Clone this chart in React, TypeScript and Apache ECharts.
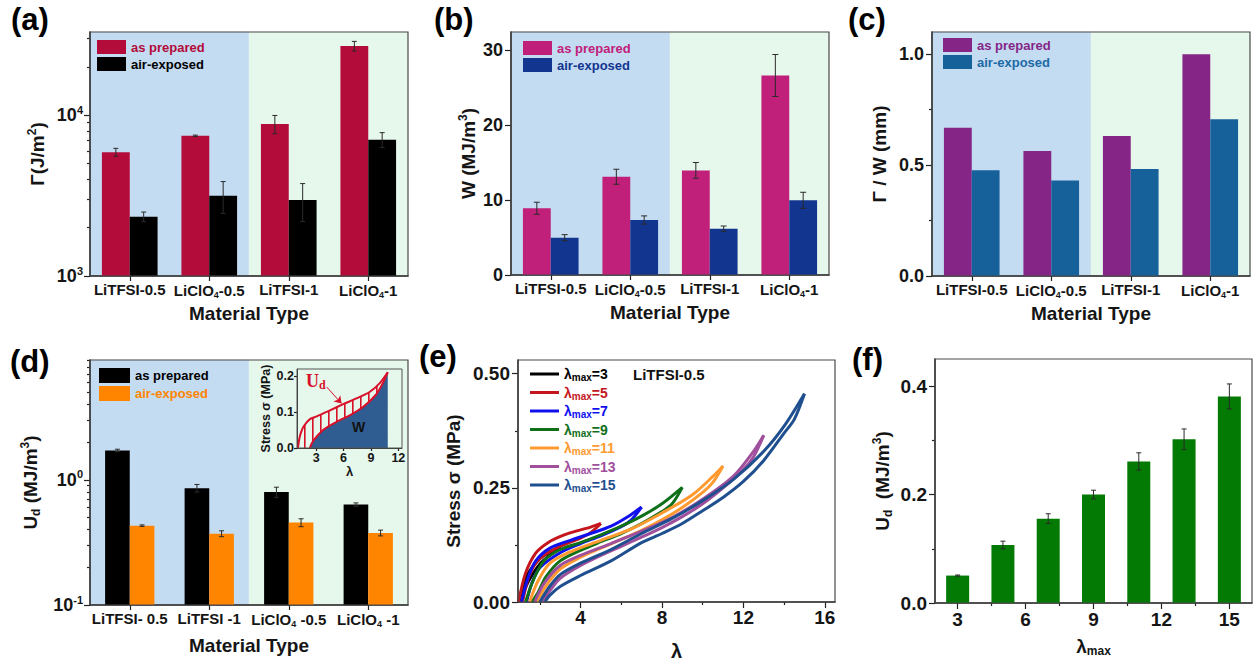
import React, { useEffect, useRef } from 'react';
import * as echarts from 'echarts';

// ---------------- data ----------------
const materialsABC = ['LiTFSI-0.5', 'LiClO4-0.5', 'LiTFSI-1', 'LiClO4-1'];
const materialsD = ['LiTFSI- 0.5', 'LiTFSI -1', 'LiClO4 -0.5', 'LiClO4 -1'];

// (a) fracture energy Γ (J/m²)
const toughnessPrepared = [5900, 7450, 8830, 27000];
const toughnessPreparedErr = [330, 80, 1150, 1850];
const toughnessExposed = [2340, 3160, 2970, 7050];
const toughnessExposedErr = [160, 710, 790, 750];

// (b) work of extension W (MJ/m³)
const workPrepared = [8.9, 13.1, 13.95, 26.6];
const workPreparedErr = [0.8, 1.0, 1.05, 2.8];
const workExposed = [4.98, 7.33, 6.18, 9.96];
const workExposedErr = [0.4, 0.55, 0.35, 1.07];

// (c) Γ / W (mm)
const ratioPrepared = [0.668, 0.563, 0.631, 1.0];
const ratioExposed = [0.477, 0.431, 0.482, 0.707];

// (d) dissipated energy Ud (MJ/m³)
const udPrepared = [1.72, 0.86, 0.8, 0.635];
const udPreparedErr = [0.04, 0.06, 0.075, 0.02];
const udExposed = [0.431, 0.372, 0.456, 0.377];
const udExposedErr = [0.006, 0.02, 0.033, 0.02];

// (d) inset: one loading / unloading cycle
const insetLoading = [[1.0, 0], [1.15, 0.025], [1.33, 0.043], [1.62, 0.06], [2.35, 0.081], [3.07, 0.088], [4.51, 0.105], [5.96, 0.122], [7.4, 0.138], [8.85, 0.156], [9.94, 0.18], [10.84, 0.211]];
const insetUnloading = [[10.84, 0.211], [10.3, 0.181], [9.57, 0.149], [8.13, 0.114], [6.68, 0.091], [5.24, 0.073], [3.79, 0.051], [2.71, 0.021], [2.3, 0]];
const insetArrow = [[4.15, 0.17], [5.78, 0.124]];

// (e) cyclic loops, LiTFSI-0.5
const lambdaMaxList = [3, 5, 7, 9, 11, 13, 15];
const loading3 = [[0.95, 0], [1.2, 0.038], [1.5, 0.068], [2, 0.095], [2.5, 0.11], [3, 0.122]];
const unloading3 = [[3, 0.122], [2.5, 0.103], [2, 0.083], [1.5, 0.05], [1.2, 0.022], [1.0, 0]];
const loading5 = [[0.96, 0], [1.3, 0.063], [1.8, 0.107], [2.4, 0.13], [3.2, 0.147], [4, 0.158], [4.5, 0.164], [5, 0.172]];
const unloading5 = [[5, 0.172], [4.5, 0.152], [4, 0.14], [3, 0.122], [2, 0.095], [1.5, 0.06], [1.15, 0]];
const loading7 = [[1.1, 0], [1.4, 0.05], [1.8, 0.09], [2.5, 0.118], [3.5, 0.135], [4.5, 0.15], [5.5, 0.166], [6.3, 0.186], [7, 0.208]];
const unloading7 = [[7, 0.208], [6.5, 0.18], [6, 0.165], [5, 0.145], [4, 0.128], [3, 0.108], [2, 0.075], [1.6, 0.04], [1.35, 0]];
const loading9 = [[1.3, 0], [1.7, 0.05], [2.2, 0.09], [3, 0.115], [4, 0.13], [5, 0.147], [6, 0.166], [7, 0.188], [8, 0.215], [9, 0.251]];
const unloading9 = [[9, 0.251], [8.5, 0.215], [8, 0.198], [7, 0.172], [6, 0.15], [5, 0.132], [4, 0.113], [3, 0.09], [2.3, 0.055], [1.9, 0.02], [1.6, 0]];
const loading11 = [[1.5, 0], [1.9, 0.045], [2.5, 0.085], [3.5, 0.11], [5, 0.135], [6.5, 0.16], [8, 0.195], [9.5, 0.235], [10.5, 0.275], [11, 0.298]];
const unloading11 = [[11, 0.298], [10.5, 0.262], [10, 0.24], [9, 0.207], [8, 0.18], [7, 0.157], [6, 0.137], [5, 0.118], [4, 0.098], [3, 0.072], [2.3, 0.035], [1.85, 0]];
const loading13 = [[1.75, 0], [2.2, 0.04], [3, 0.08], [4, 0.102], [5.5, 0.128], [7, 0.155], [8.5, 0.185], [10, 0.225], [11.5, 0.275], [12.5, 0.33], [13, 0.365]];
const unloading13 = [[13, 0.365], [12.5, 0.318], [12, 0.29], [11, 0.25], [10, 0.215], [9, 0.187], [8, 0.163], [7, 0.142], [6, 0.122], [5, 0.102], [4, 0.08], [3, 0.052], [2.5, 0.025], [2.1, 0]];
const loading15 = [[2.0, 0], [2.5, 0.035], [3, 0.06], [4, 0.085], [5.5, 0.115], [7, 0.15], [8.5, 0.183], [10, 0.222], [11.5, 0.268], [13, 0.33], [14, 0.385], [15, 0.456]];
const unloading15 = [[15, 0.456], [14.5, 0.4], [14, 0.37], [13, 0.31], [12, 0.264], [11, 0.229], [10, 0.2], [9, 0.172], [8, 0.15], [7, 0.13], [5.5, 0.09], [4, 0.058], [3, 0.034], [2.5, 0.015], [2.25, 0]];

// (f) Ud vs λmax
const udLambdaMax = [3, 5, 7, 9, 11, 13, 15];
const udByLambda = [0.0506, 0.107, 0.1556, 0.2, 0.261, 0.302, 0.381];
const udByLambdaErr = [0.001, 0.007, 0.009, 0.008, 0.016, 0.019, 0.023];

// tick values
const logMajorA = [1000, 10000];
const logMinorA = [2000, 3000, 4000, 5000, 6000, 7000, 8000, 9000, 20000, 30000];
const logMajorD = [0.1, 1];
const logMinorD = [0.2, 0.3, 0.4, 0.5, 0.6, 0.7, 0.8, 0.9, 2, 3, 4, 5, 6, 7, 8, 9];

// ---------------- styles ----------------
const FONT = "Arial, 'Liberation Sans', Helvetica, sans-serif";
const SERIF = "'Times New Roman', 'Liberation Serif', serif";
const INK = '#151515';
const BG_BLUE = '#c4dcf2';
const BG_GREEN = '#e6f7ec';
const FRAME = '#4a4a4a';
const bgSpans = [
  { from: 0, to: 1, color: BG_BLUE },
  { from: 2, to: 3, color: BG_GREEN },
];

const loopColors = ['#000000', '#c4161c', '#1010ee', '#10701a', '#ff9a30', '#a04f9c', '#1f4f8f'];

const richFor = (size: number) => ({
  sub: { fontSize: Math.round(size * 0.62), fontWeight: 'bold', fontFamily: FONT, padding: [Math.round(size * 0.5), 0, 0, 0] },
  sup: { fontSize: Math.round(size * 0.62), fontWeight: 'bold', fontFamily: FONT, padding: [0, 0, Math.round(size * 0.6), 0] },
});
const txt = (size: number, extra: any = {}) => ({ color: INK, fontFamily: FONT, fontWeight: 'bold', fontSize: size, rich: richFor(size), ...extra });
const chem = (s: string) => s.replace('ClO4', 'ClO{sub|4}');

const axLine = { show: true, onZero: false, lineStyle: { color: '#222', width: 1.5 } };
const noLine = { show: false, onZero: false };
const tick = (vals: number[] | undefined, len: number) => ({ show: true, length: len, inside: false, customValues: vals, lineStyle: { color: '#222', width: 1.2 } });
const noSplit = { show: false };

function errorSeries(xAxisIndex: number, yAxisIndex: number, xs: number[], vals: number[], errs: number[], offsetFrac: number, cap = 3) {
  return {
    type: 'custom',
    xAxisIndex,
    yAxisIndex,
    z: 5,
    silent: true,
    data: vals.map((v, i) => [xs[i], v - errs[i], v + errs[i]]),
    encode: { x: 0, y: [1, 2] },
    renderItem: (params: any, api: any) => {
      const x0 = api.value(0);
      const lo = api.value(1);
      const hi = api.value(2);
      const pLo = api.coord([x0, lo]);
      const pHi = api.coord([x0, hi]);
      const band = api.size([0, 0], [x0, hi])[0] || 0;
      const x = pLo[0] + offsetFrac * band;
      const st = { stroke: '#2a2a2a', lineWidth: 1 };
      return {
        type: 'group',
        children: [
          { type: 'line', shape: { x1: x, y1: pLo[1], x2: x, y2: pHi[1] }, style: st },
          { type: 'line', shape: { x1: x - cap, y1: pHi[1], x2: x + cap, y2: pHi[1] }, style: st },
          { type: 'line', shape: { x1: x - cap, y1: pLo[1], x2: x + cap, y2: pLo[1] }, style: st },
        ],
      };
    },
  };
}

// background shading spanning whole category bands
function bgSeries(xAxisIndex: number, yAxisIndex: number) {
  return {
    type: 'custom',
    xAxisIndex,
    yAxisIndex,
    z: 0,
    silent: true,
    data: bgSpans.map((s) => [s.from, s.to]),
    encode: { x: [0, 1] },
    renderItem: (params: any, api: any) => {
      const cs = params.coordSys;
      const i0 = api.value(0);
      const i1 = api.value(1);
      const band = api.size([0, 0], [i0, 0])[0] || 0;
      const p0 = api.coord([i0, 1])[0] - band / 2;
      const p1 = api.coord([i1, 1])[0] + band / 2;
      return {
        type: 'rect',
        shape: { x: p0, y: cs.y, width: p1 - p0, height: cs.height },
        style: { fill: bgSpans[params.dataIndex].color, stroke: bgSpans[params.dataIndex].color, lineWidth: 0.5 },
      };
    },
  };
}

function makeHatch() {
  const c = document.createElement('canvas');
  c.width = 8;
  c.height = 8;
  const g = c.getContext('2d');
  if (g) {
    g.fillStyle = '#d8102a';
    g.fillRect(0, 0, 1.6, 8);
  }
  return c;
}

function buildOption() {
  const grids = [
    { left: 90, top: 32, width: 318, height: 244 }, // a
    { left: 511, top: 32, width: 318, height: 243 }, // b
    { left: 932, top: 32, width: 318, height: 244 }, // c
    { left: 90, top: 360, width: 318, height: 245 }, // d
    { left: 297, top: 369, width: 105, height: 79 }, // inset
    { left: 518, top: 360, width: 317, height: 242 }, // e
    { left: 935, top: 359, width: 317, height: 244 }, // f
  ];

  const catAxis = (gridIndex: number, data: string[], nameGap: number) => ({
    type: 'category',
    gridIndex,
    data,
    position: 'bottom',
    axisLine: axLine,
    axisTick: { show: true, alignWithLabel: true, length: 5, lineStyle: { color: '#222', width: 1.2 } },
    axisLabel: { ...txt(15), interval: 0, margin: 6, formatter: chem },
    splitLine: noSplit,
    name: 'Material Type',
    nameLocation: 'middle',
    nameGap,
    nameTextStyle: txt(19),
  });

  const xAxis: any[] = [
    catAxis(0, materialsABC, 28), // 0
    catAxis(1, materialsABC, 28), // 1
    catAxis(2, materialsABC, 28), // 2
    catAxis(3, materialsD, 31), // 3
    {
      // 4 inset
      type: 'value', gridIndex: 4, min: 0.9, max: 12.4, position: 'bottom',
      axisLine: { show: true, onZero: false, lineStyle: { color: '#333', width: 1 } },
      axisTick: tick([3, 6, 9, 12], 3),
      axisLabel: { ...txt(12.5), customValues: [3, 6, 9, 12], margin: 3 },
      splitLine: noSplit,
      name: 'λ', nameLocation: 'middle', nameGap: 17, nameTextStyle: txt(13),
    },
    {
      // 5 e
      type: 'value', gridIndex: 5, min: 0.93, max: 16.5, position: 'bottom',
      axisLine: axLine,
      axisTick: tick([4, 8, 12, 16], 6),
      axisLabel: { ...txt(19), customValues: [4, 8, 12, 16], margin: 6 },
      splitLine: noSplit,
      name: 'λ', nameLocation: 'middle', nameGap: 39, nameTextStyle: txt(20),
    },
    {
      // 6 e minor
      type: 'value', gridIndex: 5, min: 0.93, max: 16.5, position: 'bottom',
      axisLine: noLine, axisTick: tick([2, 6, 10, 14], 3), axisLabel: { show: false }, splitLine: noSplit,
    },
    {
      // 7 f
      type: 'value', gridIndex: 6, min: 2, max: 16, position: 'bottom',
      axisLine: axLine,
      axisTick: tick([3, 6, 9, 12, 15], 6),
      axisLabel: { ...txt(19), customValues: [3, 6, 9, 12, 15], margin: 7 },
      splitLine: noSplit,
      name: 'λ{sub|max}', nameLocation: 'middle', nameGap: 32, nameTextStyle: txt(19),
    },
    {
      // 8 f minor
      type: 'value', gridIndex: 6, min: 2, max: 16, position: 'bottom',
      axisLine: noLine, axisTick: tick([4.5, 7.5, 10.5, 13.5], 3), axisLabel: { show: false }, splitLine: noSplit,
    },
  ];

  const yName = (name: string, gap: number, size = 19) => ({
    name, nameLocation: 'middle', nameRotate: 90, nameGap: gap, nameTextStyle: txt(size),
  });
  const logLabel = (v: number) => '10{sup|' + Math.round(v) + '}';

  const yAxis: any[] = [
    {
      // 0 a data (log)
      type: 'log', gridIndex: 0, min: 1000, max: 33000, logBase: 10, startValue: 1000, position: 'left',
      axisLine: axLine, axisTick: { show: false }, axisLabel: { show: false }, splitLine: noSplit,
      ...yName('Γ(J/m{sup|2})', 41),
    },
    {
      // 1 a major (log space)
      type: 'value', gridIndex: 0, min: 3, max: Math.log10(33000), position: 'left',
      axisLine: noLine, axisTick: tick(logMajorA.map(Math.log10), 6),
      axisLabel: { ...txt(18), customValues: logMajorA.map(Math.log10), formatter: logLabel, margin: 7 },
      splitLine: noSplit,
    },
    {
      // 2 a minor
      type: 'value', gridIndex: 0, min: 3, max: Math.log10(33000), position: 'left',
      axisLine: noLine, axisTick: tick(logMinorA.map(Math.log10), 3), axisLabel: { show: false }, splitLine: noSplit,
    },
    {
      // 3 b
      type: 'value', gridIndex: 1, min: 0, max: 32.4, position: 'left',
      axisLine: axLine, axisTick: tick([0, 10, 20, 30], 6),
      axisLabel: { ...txt(18), customValues: [0, 10, 20, 30], margin: 8 },
      splitLine: noSplit,
      ...yName('W (MJ/m{sup|3})', 31),
    },
    {
      // 4 c
      type: 'value', gridIndex: 2, min: 0, max: 1.1, position: 'left',
      axisLine: axLine, axisTick: tick([0, 0.5, 1], 6),
      axisLabel: { ...txt(18), customValues: [0, 0.5, 1], formatter: (v: number) => v.toFixed(1), margin: 8 },
      splitLine: noSplit,
      ...yName('Γ / W (mm)', 43),
    },
    {
      // 5 c minor
      type: 'value', gridIndex: 2, min: 0, max: 1.1, position: 'left',
      axisLine: noLine, axisTick: tick([0.25, 0.75], 3), axisLabel: { show: false }, splitLine: noSplit,
    },
    {
      // 6 d data (log)
      type: 'log', gridIndex: 3, min: 0.1, max: 9.1, logBase: 10, startValue: 0.1, position: 'left',
      axisLine: axLine, axisTick: { show: false }, axisLabel: { show: false }, splitLine: noSplit,
      ...yName('U{sub|d} (MJ/m{sup|3})', 48),
    },
    {
      // 7 d major
      type: 'value', gridIndex: 3, min: -1, max: Math.log10(9.1), position: 'left',
      axisLine: noLine, axisTick: tick(logMajorD.map(Math.log10), 6),
      axisLabel: { ...txt(18), customValues: logMajorD.map(Math.log10), formatter: logLabel, margin: 7 },
      splitLine: noSplit,
    },
    {
      // 8 d minor
      type: 'value', gridIndex: 3, min: -1, max: Math.log10(9.1), position: 'left',
      axisLine: noLine, axisTick: tick(logMinorD.map(Math.log10), 3), axisLabel: { show: false }, splitLine: noSplit,
    },
    {
      // 9 inset
      type: 'value', gridIndex: 4, min: 0, max: 0.22, position: 'left',
      axisLine: { show: true, onZero: false, lineStyle: { color: '#333', width: 1 } },
      axisTick: tick([0, 0.1, 0.2], 3),
      axisLabel: { ...txt(12.5), customValues: [0, 0.1, 0.2], formatter: (v: number) => v.toFixed(1), margin: 3 },
      splitLine: noSplit,
      ...yName('Stress σ (MPa)', 25, 12.5),
    },
    {
      // 10 e
      type: 'value', gridIndex: 5, min: 0, max: 0.53, position: 'left',
      axisLine: axLine, axisTick: tick([0, 0.25, 0.5], 6),
      axisLabel: { ...txt(19), customValues: [0, 0.25, 0.5], formatter: (v: number) => v.toFixed(2), margin: 8 },
      splitLine: noSplit,
      ...yName('Stress σ (MPa)', 55),
    },
    {
      // 11 e minor
      type: 'value', gridIndex: 5, min: 0, max: 0.53, position: 'left',
      axisLine: noLine, axisTick: tick([0.125, 0.375], 3), axisLabel: { show: false }, splitLine: noSplit,
    },
    {
      // 12 f
      type: 'value', gridIndex: 6, min: 0, max: 0.45, position: 'left',
      axisLine: axLine, axisTick: tick([0, 0.2, 0.4], 6),
      axisLabel: { ...txt(19), customValues: [0, 0.2, 0.4], formatter: (v: number) => v.toFixed(1), margin: 8 },
      splitLine: noSplit,
      ...yName('U{sub|d}  (MJ/m{sup|3})', 41),
    },
    {
      // 13 f minor
      type: 'value', gridIndex: 6, min: 0, max: 0.45, position: 'left',
      axisLine: noLine, axisTick: tick([0.1, 0.3], 3), axisLabel: { show: false }, splitLine: noSplit,
    },
  ];

  const idx = materialsABC.map((_, i) => i);
  const bar = (name: string, xi: number, yi: number, data: number[], color: string, gap: string) => ({
    type: 'bar', name, xAxisIndex: xi, yAxisIndex: yi, data, barGap: '0%', barCategoryGap: gap,
    itemStyle: { color }, clip: true, z: 2,
  });

  const C = {
    aP: '#b30b3a', aE: '#000000',
    bP: '#c0207a', bE: '#12358f',
    cP: '#852687', cE: '#17619b',
    dP: '#000000', dE: '#ff8400',
    f: '#037a03',
  };

  const hatch = makeHatch();

  const series: any[] = [
    // backgrounds
    bgSeries(0, 0),
    bgSeries(1, 3),
    bgSeries(2, 4),
    bgSeries(3, 6),
    // (a)
    bar('as prepared#a', 0, 0, toughnessPrepared, C.aP, '30%'),
    bar('air-exposed#a', 0, 0, toughnessExposed, C.aE, '30%'),
    errorSeries(0, 0, idx, toughnessPrepared, toughnessPreparedErr, -0.175, 2.5),
    errorSeries(0, 0, idx, toughnessExposed, toughnessExposedErr, 0.175, 2.5),
    // (b)
    bar('as prepared#b', 1, 3, workPrepared, C.bP, '30%'),
    bar('air-exposed#b', 1, 3, workExposed, C.bE, '30%'),
    errorSeries(1, 3, idx, workPrepared, workPreparedErr, -0.175, 3),
    errorSeries(1, 3, idx, workExposed, workExposedErr, 0.175, 3),
    // (c)
    bar('as prepared#c', 2, 4, ratioPrepared, C.cP, '30%'),
    bar('air-exposed#c', 2, 4, ratioExposed, C.cE, '30%'),
    // (d)
    bar('as prepared#d', 3, 6, udPrepared, C.dP, '38%'),
    bar('air-exposed#d', 3, 6, udExposed, C.dE, '38%'),
    errorSeries(3, 6, idx, udPrepared, udPreparedErr, -0.155, 2.5),
    errorSeries(3, 6, idx, udExposed, udExposedErr, 0.155, 2.5),
    // inset
    {
      type: 'line', xAxisIndex: 4, yAxisIndex: 9, data: insetLoading, smooth: 0.25, showSymbol: false, silent: true,
      lineStyle: { width: 0, opacity: 0 },
      areaStyle: { color: { image: hatch, repeat: 'repeat', imageWidth: 8, imageHeight: 8 }, opacity: 1 },
      z: 3,
    },
    {
      type: 'line', xAxisIndex: 4, yAxisIndex: 9, data: insetUnloading, smooth: 0.25, showSymbol: false, silent: true,
      lineStyle: { width: 2, color: '#d8102a' },
      areaStyle: { color: '#2f5d91', opacity: 1 },
      z: 4,
    },
    {
      type: 'line', xAxisIndex: 4, yAxisIndex: 9, data: insetLoading, smooth: 0.25, showSymbol: false, silent: true,
      lineStyle: { width: 2, color: '#d8102a' },
      z: 5,
      markLine: {
        silent: true, symbol: ['none', 'arrow'], symbolSize: 7, label: { show: false },
        lineStyle: { color: '#d8102a', width: 1, type: 'solid' },
        data: [[{ coord: insetArrow[0] }, { coord: insetArrow[1] }]],
      },
    },
    // (f)
    {
      type: 'bar', xAxisIndex: 7, yAxisIndex: 12, data: udLambdaMax.map((x, i) => [x, udByLambda[i]]),
      barWidth: 23, itemStyle: { color: C.f }, z: 2,
    },
    errorSeries(7, 12, udLambdaMax, udByLambda, udByLambdaErr, 0, 2.5),
  ];

  const loops = [
    [loading3, unloading3], [loading5, unloading5], [loading7, unloading7], [loading9, unloading9],
    [loading11, unloading11], [loading13, unloading13], [loading15, unloading15],
  ];
  loops.forEach((pair, i) => {
    pair.forEach((d) => {
      series.push({
        type: 'line', name: 'λmax=' + lambdaMaxList[i], xAxisIndex: 5, yAxisIndex: 10, data: d,
        smooth: 0.3, showSymbol: false, silent: true,
        color: loopColors[i], itemStyle: { color: loopColors[i] },
        lineStyle: { width: 3, color: loopColors[i] }, z: 3 + i * 0.1,
      });
    });
  });

  const strip = (n: string) => n.split('#')[0];
  const barLegend = (suffix: string, left: number, top: number, cP: string, cE: string, w = 29, h = 14) => ({
    left, top, orient: 'vertical', itemWidth: w, itemHeight: h, itemGap: 3, icon: 'rect', selectedMode: false,
    formatter: strip, padding: 0,
    textStyle: { fontSize: 13, fontWeight: 'bold', fontFamily: FONT },
    data: [
      { name: 'as prepared#' + suffix, textStyle: { color: cP } },
      { name: 'air-exposed#' + suffix, textStyle: { color: cE } },
    ],
  });

  const legend: any[] = [
    barLegend('a', 97, 40, C.aP, '#000000'),
    barLegend('b', 523, 41, C.bP, C.bE),
    barLegend('c', 943, 38, C.cP, '#1d6aa5'),
    barLegend('d', 99, 368, '#000000', C.dE, 31, 15),
    {
      left: 530, top: 367, orient: 'vertical', itemWidth: 29, itemHeight: 3, itemGap: 3, icon: 'rect', selectedMode: false,
      padding: 0,
      formatter: (n: string) => n.replace('max', '{sub|max}'),
      textStyle: {
        fontSize: 14, fontWeight: 'bold', fontFamily: FONT,
        rich: { sub: { fontSize: 10, fontWeight: 'bold', fontFamily: FONT, padding: [7, 0, 0, 0] } },
      },
      data: lambdaMaxList.map((m, i) => ({ name: 'λmax=' + m, textStyle: { color: loopColors[i] } })),
    },
  ];

  const panelLabels = [
    { t: '(a)', x: 11, y: 4 },
    { t: '(b)', x: 434, y: 4 },
    { t: '(c)', x: 848, y: 4 },
    { t: '(d)', x: 10, y: 346 },
    { t: '(e)', x: 419, y: 341 },
    { t: '(f)', x: 852, y: 344 },
  ];

  const graphic: any[] = panelLabels.map((p) => ({
    type: 'text', left: p.x, top: p.y, z: 20,
    style: { text: p.t, font: 'bold 31px ' + FONT, fill: '#000' },
  }));
  graphic.push(
    { type: 'text', left: 633, top: 367, z: 20, style: { text: 'LiTFSI-0.5', font: 'bold 15px ' + FONT, fill: '#111' } },
    {
      type: 'text', left: 306, top: 372, z: 20,
      style: {
        text: '{u|U}{d|d}', fill: '#d8102a',
        rich: {
          u: { fontSize: 18, fontWeight: 'bold', fontFamily: SERIF },
          d: { fontSize: 12, fontWeight: 'bold', fontFamily: SERIF, padding: [8, 0, 0, 0] },
        },
      },
    },
    { type: 'text', left: 352, top: 420, z: 20, style: { text: 'W', font: 'bold 14px ' + FONT, fill: '#111' } },
  );

  return {
    animation: false,
    backgroundColor: '#ffffff',
    textStyle: { fontFamily: FONT },
    grid: grids.map((g, i) => ({
      ...g, containLabel: false, show: true, backgroundColor: 'transparent',
      borderColor: i === 4 ? '#555' : FRAME, borderWidth: i === 4 ? 1 : 1.2, z: 10,
    })),
    xAxis,
    yAxis,
    legend,
    series,
    graphic,
  };
}

export default function App() {
  const ref = useRef<HTMLDivElement>(null);
  useEffect(() => {
    if (!ref.current) return;
    const chart = echarts.init(ref.current, null, { renderer: 'svg' });
    chart.setOption(buildOption() as any);
    return () => chart.dispose();
  }, []);
  return (
    <div
      ref={ref}
      style={{ position: 'fixed', left: 0, top: 0, width: 1256, height: 664, background: '#ffffff' }}
    />
  );
}
